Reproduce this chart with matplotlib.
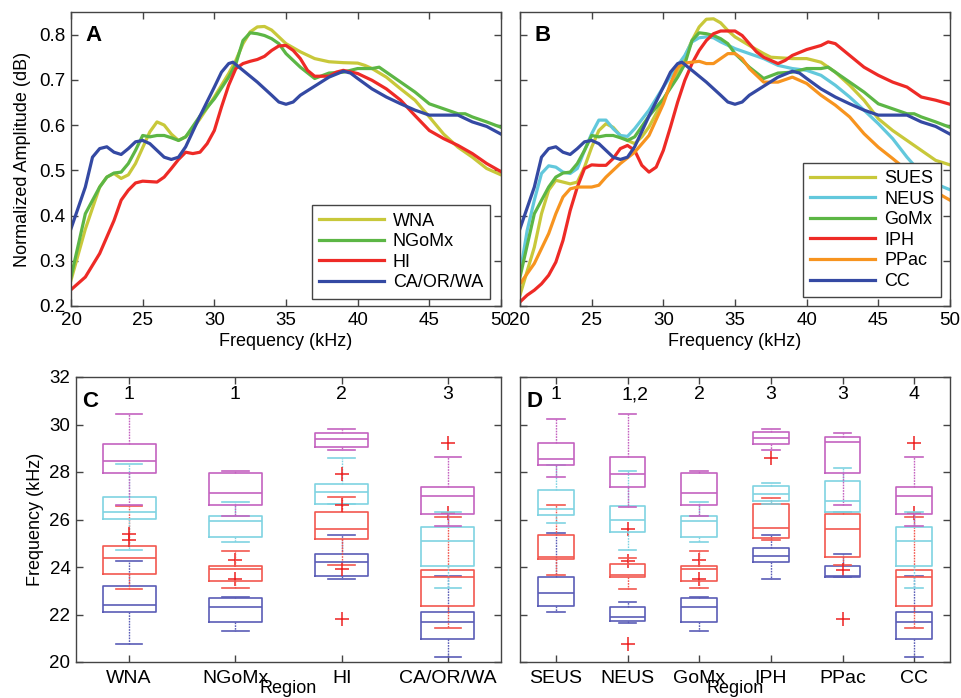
import numpy as np
import matplotlib
matplotlib.use('Agg')
import matplotlib.pyplot as plt

plt.rcParams['font.family'] = ['Liberation Sans', 'DejaVu Sans']

# ---- spectra (panel A) ----
wna_f = [20, 21, 22, 22.5, 23, 23.5, 24, 24.5, 25, 25.5, 26, 26.5, 27, 27.5, 28, 28.5, 29, 30, 31, 31.5,
         32, 32.5, 33, 33.5, 34, 35, 36, 37, 38, 39, 40, 40.5, 41, 42, 43, 44, 45, 46, 47, 48, 49, 50]
wna_a = [0.257, 0.37, 0.463, 0.485, 0.493, 0.482, 0.49, 0.515, 0.55, 0.585, 0.607, 0.600, 0.58, 0.566,
         0.574, 0.592, 0.614, 0.662, 0.714, 0.743, 0.78, 0.806, 0.817, 0.818, 0.81, 0.78, 0.762, 0.747,
         0.74, 0.738, 0.737, 0.732, 0.725, 0.706, 0.68, 0.655, 0.618, 0.58, 0.551, 0.529, 0.504, 0.49]

ngomx_f = [20, 21, 22, 22.5, 23, 23.5, 24, 24.5, 25, 25.5, 26, 26.5, 27, 27.5, 28, 29, 30, 31, 31.5, 32,
           32.5, 33, 33.5, 34, 34.5, 35, 36, 37, 38, 39, 40, 41, 41.5, 42, 43, 44, 45, 46, 47, 47.5, 48, 49, 50]
ngomx_a = [0.264, 0.404, 0.463, 0.485, 0.494, 0.496, 0.515, 0.544, 0.577, 0.574, 0.577, 0.577, 0.572,
           0.566, 0.574, 0.62, 0.658, 0.706, 0.735, 0.787, 0.804, 0.802, 0.798, 0.791, 0.78, 0.758, 0.728,
           0.703, 0.715, 0.717, 0.725, 0.725, 0.728, 0.717, 0.695, 0.673, 0.647, 0.636, 0.625, 0.625,
           0.618, 0.607, 0.595]

hi_f = [20, 21, 22, 23, 23.5, 24, 24.5, 25, 26, 26.5, 27, 27.5, 28, 28.5, 29, 29.5, 30, 30.5, 31, 31.5,
        32, 32.5, 33, 33.5, 34, 34.5, 35, 35.5, 36, 36.5, 37, 38, 38.5, 39, 40, 41, 42, 43, 44, 45, 46,
        47, 48, 49, 50]
hi_a = [0.236, 0.264, 0.316, 0.389, 0.434, 0.456, 0.472, 0.476, 0.474, 0.485, 0.504, 0.524, 0.54, 0.537,
        0.54, 0.559, 0.588, 0.64, 0.688, 0.725, 0.736, 0.741, 0.745, 0.752, 0.765, 0.775, 0.776, 0.765,
        0.747, 0.721, 0.708, 0.708, 0.717, 0.721, 0.714, 0.699, 0.68, 0.655, 0.621, 0.588, 0.57, 0.555,
        0.537, 0.515, 0.497]

caorwa_f = [20, 21, 21.5, 22, 22.5, 23, 23.5, 24, 24.5, 25, 25.5, 26, 26.5, 27, 27.5, 28, 29, 30, 30.5,
            31, 31.3, 32, 33, 34, 34.5, 35, 35.5, 36, 37, 38, 39, 39.5, 40, 41, 42, 43, 44, 45, 46, 47,
            48, 49, 50]
caorwa_a = [0.371, 0.463, 0.529, 0.548, 0.552, 0.54, 0.535, 0.548, 0.563, 0.566, 0.559, 0.544, 0.529,
            0.524, 0.529, 0.552, 0.62, 0.684, 0.717, 0.736, 0.739, 0.721, 0.695, 0.666, 0.651, 0.646,
            0.651, 0.666, 0.686, 0.706, 0.719, 0.715, 0.703, 0.68, 0.662, 0.647, 0.633, 0.622, 0.622,
            0.622, 0.607, 0.597, 0.58]

# ---- spectra (panel B) ----
sues_f = [20, 21, 21.5, 22, 22.5, 23, 23.5, 24, 24.5, 25, 25.5, 26, 26.5, 27, 27.5, 28, 28.5, 29, 30, 31,
          31.5, 32, 32.5, 33, 33.5, 34, 34.5, 35, 36, 37, 37.5, 38, 39, 40, 41, 42, 43, 44, 45, 46, 47,
          48, 49, 50]
sues_a = [0.224, 0.33, 0.404, 0.456, 0.478, 0.474, 0.47, 0.474, 0.507, 0.551, 0.588, 0.603, 0.595, 0.577,
          0.566, 0.559, 0.574, 0.596, 0.655, 0.717, 0.751, 0.787, 0.817, 0.834, 0.835, 0.826, 0.809,
          0.795, 0.776, 0.758, 0.75, 0.749, 0.747, 0.747, 0.739, 0.717, 0.688, 0.655, 0.614, 0.588,
          0.566, 0.544, 0.522, 0.512]

neus_f = [20, 20.5, 21, 21.5, 22, 22.5, 23, 23.5, 24, 24.5, 25, 25.5, 26, 26.5, 27, 27.5, 28, 29, 30, 31,
          31.5, 32, 32.5, 33, 33.5, 34, 35, 36, 37, 38, 39, 40, 41, 42, 43, 44, 45, 46, 47, 48, 49, 50]
neus_a = [0.271, 0.367, 0.434, 0.493, 0.51, 0.507, 0.496, 0.493, 0.504, 0.544, 0.581, 0.611, 0.611,
          0.592, 0.577, 0.575, 0.592, 0.633, 0.684, 0.732, 0.754, 0.784, 0.793, 0.795, 0.793, 0.784,
          0.769, 0.758, 0.747, 0.732, 0.725, 0.721, 0.71, 0.688, 0.662, 0.633, 0.603, 0.57, 0.529,
          0.493, 0.47, 0.457]

gomx_f = ngomx_f
gomx_a = ngomx_a

iph_f = [20, 20.5, 21, 21.5, 22, 22.5, 23, 23.5, 24, 24.5, 25, 25.5, 26, 26.5, 27, 27.5, 28, 28.5, 29,
         29.5, 30, 30.5, 31, 31.5, 32, 32.5, 33, 33.5, 34, 35, 35.5, 36, 36.5, 37, 38, 38.5, 39, 40, 41,
         41.5, 42, 43, 44, 45, 46, 47, 48, 49, 50]
iph_a = [0.209, 0.224, 0.235, 0.249, 0.268, 0.297, 0.345, 0.411, 0.463, 0.504, 0.512, 0.511, 0.511,
         0.526, 0.548, 0.555, 0.544, 0.511, 0.496, 0.507, 0.544, 0.596, 0.651, 0.699, 0.736, 0.765,
         0.787, 0.802, 0.808, 0.808, 0.798, 0.78, 0.762, 0.75, 0.736, 0.743, 0.754, 0.767, 0.776,
         0.784, 0.78, 0.754, 0.728, 0.71, 0.695, 0.684, 0.662, 0.655, 0.646]

ppac_f = [20, 21, 22, 22.5, 23, 23.5, 24, 25, 25.5, 26, 27, 28, 29, 30, 30.5, 31, 31.5, 32, 32.5, 33,
          33.5, 34, 34.5, 35, 35.5, 36, 37, 38, 39, 40, 41, 42, 43, 44, 45, 46, 47, 48, 49, 50]
ppac_a = [0.249, 0.294, 0.36, 0.404, 0.441, 0.459, 0.463, 0.463, 0.467, 0.485, 0.515, 0.54, 0.577,
          0.647, 0.692, 0.728, 0.737, 0.739, 0.741, 0.736, 0.736, 0.747, 0.758, 0.758, 0.747, 0.725,
          0.695, 0.695, 0.706, 0.692, 0.666, 0.644, 0.618, 0.581, 0.551, 0.526, 0.5, 0.474, 0.452, 0.434]

cc_f = caorwa_f
cc_a = caorwa_a

# ---- box stats: [whisker low, q1, median, q3, whisker high] ----
c_labels = ['WNA', 'NGoMx', 'HI', 'CA/OR/WA']
c_groups = ['1', '1', '2', '3']
c_blue = [[20.77, 22.10, 22.42, 23.19, 24.27], [21.29, 21.70, 22.31, 22.69, 22.72],
          [23.51, 23.63, 24.21, 24.55, 25.35], [20.21, 20.95, 21.70, 22.10, 23.62]]
c_blue_out = [[], [23.49, 24.29], [], []]
c_red = [[23.08, 23.72, 24.36, 24.88, 26.55], [23.10, 23.42, 23.90, 24.04, 24.66],
         [24.07, 25.17, 25.58, 26.31, 26.93], [21.45, 22.35, 23.57, 23.87, 26.11]]
c_red_out = [[], [], [23.90, 21.82], [26.28]]
c_cyan = [[24.73, 26.01, 26.32, 26.95, 28.32], [25.07, 25.26, 25.94, 26.15, 26.74],
          [26.67, 26.67, 27.14, 27.50, 28.59], [23.11, 24.03, 25.11, 25.67, 26.30]]
c_cyan_out = [[], [], [26.60], []]
c_mag = [[26.63, 27.96, 28.45, 29.17, 30.44], [26.13, 26.63, 27.10, 27.97, 28.03],
         [28.94, 29.07, 29.38, 29.65, 29.80], [25.72, 26.24, 26.97, 27.35, 28.62]]
c_mag_out = [[25.38, 25.15], [], [27.93], [29.21]]

d_labels = ['SEUS', 'NEUS', 'GoMx', 'IPH', 'PPac', 'CC']
d_groups = ['1', '1,2', '2', '3', '3', '4']
d_blue = [[22.11, 22.34, 22.89, 23.59, 25.43], [21.65, 21.73, 21.91, 22.31, 22.52],
          [21.29, 21.70, 22.31, 22.69, 22.72], [23.51, 24.21, 24.45, 24.80, 25.35],
          [23.56, 23.56, 23.62, 24.04, 24.53], [20.21, 20.95, 21.70, 22.10, 23.62]]
d_blue_out = [[], [24.27, 20.77], [23.49, 24.29], [], [], []]
d_red = [[23.68, 24.32, 24.42, 25.35, 26.63], [23.08, 23.56, 23.68, 24.12, 24.38],
         [23.10, 23.42, 23.90, 24.04, 24.66], [25.12, 25.24, 25.66, 26.67, 26.91],
         [24.08, 24.42, 25.58, 26.25, 26.30], [21.45, 22.35, 23.57, 23.87, 26.11]]
d_red_out = [[], [25.62], [], [], [23.89, 21.80], [26.28]]
d_cyan = [[25.87, 26.21, 26.46, 27.24, 28.31], [24.73, 25.46, 25.97, 26.57, 28.03],
          [25.07, 25.26, 25.94, 26.15, 26.74], [26.67, 26.77, 27.07, 27.41, 27.52],
          [26.32, 26.32, 26.80, 27.63, 28.17], [23.11, 24.03, 25.11, 25.67, 26.30]]
d_cyan_out = [[], [], [], [], [], []]
d_mag = [[27.77, 28.31, 28.55, 29.22, 30.24], [26.53, 27.38, 27.91, 28.65, 30.44],
         [26.13, 26.63, 27.10, 27.97, 28.03], [28.94, 29.19, 29.45, 29.70, 29.80],
         [26.60, 27.94, 29.25, 29.49, 29.65], [25.72, 26.24, 26.97, 27.35, 28.62]]
d_mag_out = [[], [], [], [28.58], [], [29.21]]

# colours
C_YEL = '#c8c83a'
C_GRN = '#5cb645'
C_RED = '#ee2a26'
C_BLU = '#3449a3'
C_CYN = '#62c8dc'
C_ORG = '#f7941f'
B_BLU = '#5a5cb6'
B_RED = '#f2574f'
B_CYN = '#7fd3e2'
B_MAG = '#c462c0'
AX_C = '#444444'

W, H = 961, 698
fig = plt.figure(figsize=(W / 100, H / 100), dpi=100)


def px_axes(l, t, r, b):
    return fig.add_axes([l / W, 1 - b / H, (r - l) / W, (b - t) / H])


def style(ax):
    for s in ax.spines.values():
        s.set_color(AX_C)
        s.set_linewidth(1.0)
    ax.tick_params(direction='in', top=True, right=True, length=5, width=1, color=AX_C,
                   labelsize=13.5, pad=4)


axA = px_axes(71, 12, 501, 306)
axB = px_axes(520, 12, 950, 306)
axC = px_axes(76, 377, 501, 662)
axD = px_axes(520, 377, 950, 662)

lw = 2.3
for f, a, c, lab in [(wna_f, wna_a, C_YEL, 'WNA'), (ngomx_f, ngomx_a, C_GRN, 'NGoMx'),
                     (hi_f, hi_a, C_RED, 'HI'), (caorwa_f, caorwa_a, C_BLU, 'CA/OR/WA')]:
    axA.plot(f, a, color=c, lw=lw, label=lab)
for f, a, c, lab in [(sues_f, sues_a, C_YEL, 'SUES'), (neus_f, neus_a, C_CYN, 'NEUS'),
                     (gomx_f, gomx_a, C_GRN, 'GoMx'), (iph_f, iph_a, C_RED, 'IPH'),
                     (ppac_f, ppac_a, C_ORG, 'PPac'), (cc_f, cc_a, C_BLU, 'CC')]:
    axB.plot(f, a, color=c, lw=lw, label=lab)

for ax, letter in [(axA, 'A'), (axB, 'B')]:
    ax.set_xlim(20, 50)
    ax.set_ylim(0.2, 0.85)
    ax.set_xticks(np.arange(20, 51, 5))
    ax.set_yticks(np.arange(0.2, 0.81, 0.1))
    style(ax)
    ax.set_xlabel('Frequency (kHz)', fontsize=13, labelpad=3)
    ax.text(0.033, 0.92, letter, transform=ax.transAxes, fontsize=16, fontweight='bold',
            ha='left', va='center')
axA.set_yticklabels(['0.2', '0.3', '0.4', '0.5', '0.6', '0.7', '0.8'])
axA.set_ylabel('Normalized Amplitude (dB)', fontsize=13, labelpad=6)
axB.set_yticklabels([])

legA = axA.legend(loc='lower right', bbox_to_anchor=(0.975, 0.025), fontsize=13, handlelength=3.6,
                  fancybox=False, framealpha=1, edgecolor=AX_C, borderaxespad=0,
                  labelspacing=0.2, handletextpad=0.5, borderpad=0.4)
legA.get_frame().set_linewidth(1.0)
legB = axB.legend(loc='lower right', bbox_to_anchor=(0.98, 0.03), fontsize=13, handlelength=3.6,
                  fancybox=False, framealpha=1, edgecolor=AX_C, borderaxespad=0,
                  labelspacing=0.2, handletextpad=0.5, borderpad=0.4)
legB.get_frame().set_linewidth(1.0)


def draw_boxes(ax, rows, outs, color):
    stats = [dict(whislo=r[0], q1=r[1], med=r[2], q3=r[3], whishi=r[4], fliers=o)
             for r, o in zip(rows, outs)]
    pos = np.arange(1, len(rows) + 1)
    ax.bxp(stats, positions=pos, widths=0.5, capwidths=0.25, manage_ticks=False,
           boxprops=dict(color=color, lw=1.2),
           medianprops=dict(color=color, lw=1.2),
           whiskerprops=dict(color=color, lw=1.0, ls=(0, (1.2, 0.8))),
           capprops=dict(color=color, lw=1.2),
           flierprops=dict(marker='+', markeredgecolor='#ee2222', markersize=10,
                           markeredgewidth=1.1, linestyle='none'))


for ax, sets, labels, groups, letter in [
        (axC, [(c_blue, c_blue_out, B_BLU), (c_red, c_red_out, B_RED), (c_cyan, c_cyan_out, B_CYN),
               (c_mag, c_mag_out, B_MAG)], c_labels, c_groups, 'C'),
        (axD, [(d_blue, d_blue_out, B_BLU), (d_red, d_red_out, B_RED), (d_cyan, d_cyan_out, B_CYN),
               (d_mag, d_mag_out, B_MAG)], d_labels, d_groups, 'D')]:
    for rows, outs, col in sets:
        draw_boxes(ax, rows, outs, col)
    n = len(labels)
    ax.set_xlim(0.5, n + 0.5)
    ax.set_ylim(20, 32)
    ax.set_xticks(np.arange(1, n + 1))
    ax.set_xticklabels(labels)
    ax.set_yticks(np.arange(20, 33, 2))
    style(ax)
    ax.tick_params(axis='x', labelsize=14, pad=6)
    for i, g in enumerate(groups):
        ax.text(i + 1 + (0.1 if g == '1,2' else 0), 31.25, g, fontsize=14, ha='center', va='center')
    ax.text(0.015, 0.913, letter, transform=ax.transAxes, fontsize=16, fontweight='bold',
            ha='left', va='center')
    ax.set_xlabel('Region', fontsize=13)
    ax.xaxis.set_label_coords(0.5, -0.062)

axC.set_ylabel('Frequency (kHz)', fontsize=13, labelpad=4)
axD.set_yticklabels([])

fig.savefig('out.png', dpi=100)
